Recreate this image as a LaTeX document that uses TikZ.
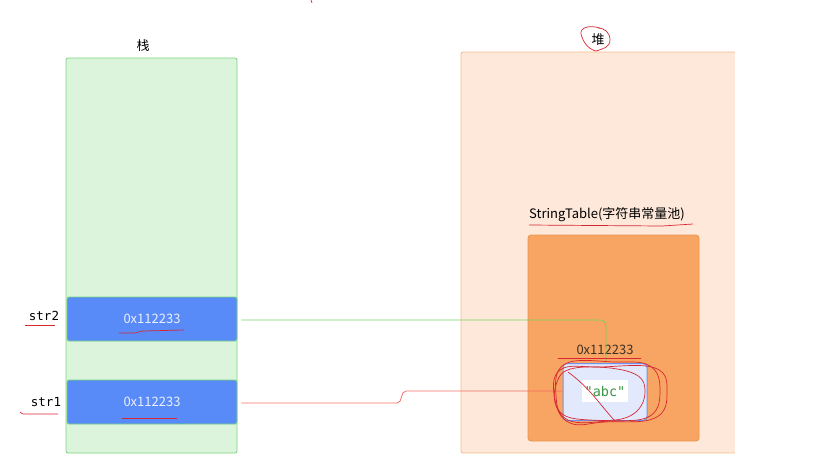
\documentclass[tikz,border=0pt]{standalone}
\usepackage{fontspec}
\setmainfont{Noto Sans CJK SC}
\newfontfamily\monofam{DejaVu Sans Mono}
\begin{document}
\begin{tikzpicture}[x=1pt,y=-1pt,
  font=\fontsize{13}{15}\selectfont,
  cellbox/.style={draw=stkline, line width=0.8pt, fill={rgb,255:red,88;green,138;blue,248}, rounded corners=2pt, minimum width=170pt, minimum height=44pt, text={rgb,255:red,235;green,240;blue,255}},
  strlbl/.style={font=\monofam\fontsize{12.5}{15}\selectfont},
  scrib/.style={draw=inkred, line width=0.7pt},
  conn/.style={line width=0.8pt, rounded corners=6pt}]
\definecolor{stkfill}{RGB}{220,243,220}
\definecolor{stkline}{RGB}{120,215,120}
\definecolor{heapfill}{RGB}{253,232,217}
\definecolor{heapline}{RGB}{247,185,140}
\definecolor{poolfill}{RGB}{248,164,98}
\definecolor{poolline}{RGB}{232,150,80}
\definecolor{abcline}{RGB}{110,145,240}
\definecolor{inkred}{RGB}{215,40,50}
\definecolor{greenline}{RGB}{120,210,100}
\definecolor{redline}{RGB}{245,110,100}
\definecolor{abctext}{RGB}{60,150,70}
\useasboundingbox (0,0) rectangle (822,467);
% stack
\draw[draw=stkline, fill=stkfill, rounded corners=2pt, line width=0.8pt] (66,58) rectangle (237,453);
\node (stacklbl) at (143,46) {栈};
\node[cellbox] (str2box) at (152,319) {0x112233};
\node[cellbox] (str1box) at (152,402) {0x112233};
\node[strlbl] (str2lbl) at (44,316) {str2};
\node[strlbl] (str1lbl) at (46,402) {str1};
% heap
\fill[heapfill] (461,52) rectangle (735,453);
\draw[heapline, line width=0.8pt, rounded corners=2pt] (735,52) -- (461,52) -- (461,453) -- (735,453);
\node (heaplbl) at (598,40) {堆};
\node (pooltitle) at (607,215) {StringTable(字符串常量池)};
\draw[draw=poolline, fill=poolfill, rounded corners=3pt, line width=0.8pt] (528,235) rectangle (699,441);
\node[text={rgb,255:red,60;green,50;blue,40}] (addrlbl) at (605,350) {0x112233};
\node[draw=abcline, fill=abcline!20!white, line width=1pt, rounded corners=4pt, minimum width=84pt, minimum height=57pt] (abcbox) at (605,392) {};
\node[fill=white, text=abctext, inner sep=3pt, minimum height=22pt, font=\monofam\fontsize{13.5}{16}\selectfont] (abctxt) at (605,391) {"abc"};
% connectors
\coordinate (gturn) at (606,320);
\draw[conn, greenline] (str2box.east) ++(4,1) -- (gturn) -- (abcbox.north -| gturn);
\draw[redline, line width=0.8pt] (str1box.east) ++(4,1) -- (397,403) to[out=0,in=180] (406,391) -- (abcbox.west |- 0,391);
% red scribbles
\draw[scrib] (25,325) -- (55,325);
\draw[scrib] (20,412) .. controls (22,414) .. (26,414) -- (58,414);
\draw[scrib] (119,333) -- (135,333) -- (142,331) -- (184,330);
\draw[scrib] (122,418) -- (177,418);
\draw[scrib] (529,225) -- (662,226) -- (693,224);
\draw[scrib] (558,358) -- (641,358);
\draw[scrib] (600,28) .. controls (590,25) and (580,27) .. (581,34) .. controls (583,42) and (588,49) .. (596,51) .. controls (603,49) and (610,47) .. (610,40) .. controls (610,32) and (604,28) .. (598,28);
\draw[scrib] (311,0) -- (312,3);
\draw[scrib] plot[smooth cycle, tension=0.7] coordinates {(565,364) (615,362) (650,366) (660,390) (650,416) (610,421) (568,420) (556,395)};
\draw[scrib] plot[smooth cycle, tension=0.7] coordinates {(560,370) (600,367) (655,368) (667,392) (655,418) (605,422) (570,423) (555,400)};
\draw[scrib] plot[smooth cycle, tension=0.7] coordinates {(575,368) (630,372) (645,392) (630,416) (590,420) (560,412) (556,385)};
\draw[scrib] (568,372) .. controls (590,388) and (600,405) .. (615,421);
\end{tikzpicture}
\end{document}
